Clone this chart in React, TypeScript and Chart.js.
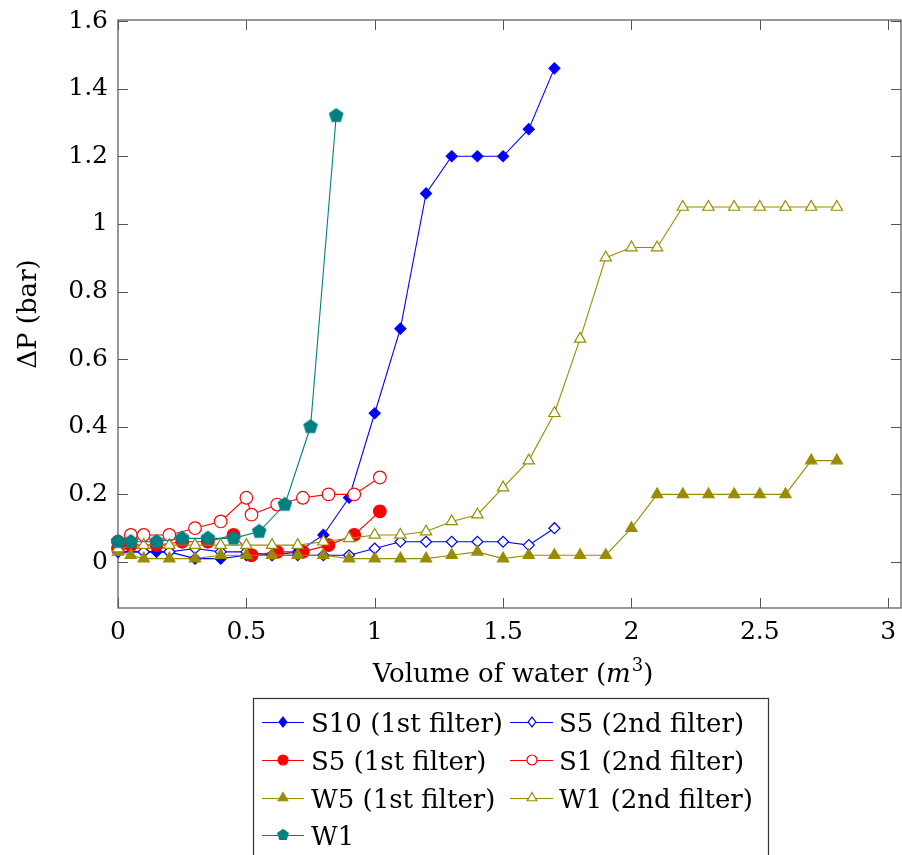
import React, { useEffect, useRef } from 'react';
import { Chart, registerables } from 'chart.js';
Chart.register(...registerables);

// ---- data ----
const s10FirstX = [0, 0.1, 0.15, 0.2, 0.3, 0.4, 0.5, 0.6, 0.7, 0.8, 0.9, 1.0, 1.1, 1.2, 1.3, 1.4, 1.5, 1.6, 1.7];
const s10FirstY = [0.03, 0.03, 0.03, 0.03, 0.01, 0.01, 0.02, 0.02, 0.03, 0.08, 0.19, 0.44, 0.69, 1.09, 1.2, 1.2, 1.2, 1.28, 1.46];

const s5SecondX = [0, 0.1, 0.2, 0.3, 0.4, 0.5, 0.6, 0.7, 0.8, 0.9, 1.0, 1.1, 1.2, 1.3, 1.4, 1.5, 1.6, 1.7];
const s5SecondY = [0.03, 0.03, 0.03, 0.04, 0.03, 0.03, 0.02, 0.02, 0.02, 0.02, 0.04, 0.06, 0.06, 0.06, 0.06, 0.06, 0.05, 0.1];

const s5FirstX = [0, 0.05, 0.15, 0.25, 0.35, 0.45, 0.52, 0.62, 0.72, 0.82, 0.92, 1.02];
const s5FirstY = [0.04, 0.05, 0.05, 0.06, 0.06, 0.08, 0.02, 0.03, 0.03, 0.05, 0.08, 0.15];

const s1SecondX = [0, 0.05, 0.1, 0.2, 0.3, 0.4, 0.5, 0.52, 0.62, 0.72, 0.82, 0.92, 1.02];
const s1SecondY = [0.06, 0.08, 0.08, 0.08, 0.1, 0.12, 0.19, 0.14, 0.17, 0.19, 0.2, 0.2, 0.25];

const w5FirstX = [0, 0.05, 0.1, 0.2, 0.3, 0.4, 0.5, 0.6, 0.7, 0.8, 0.9, 1.0, 1.1, 1.2, 1.3, 1.4, 1.5, 1.6, 1.7, 1.8, 1.9, 2.0, 2.1, 2.2, 2.3, 2.4, 2.5, 2.6, 2.7, 2.8];
const w5FirstY = [0.03, 0.02, 0.01, 0.01, 0.01, 0.02, 0.02, 0.02, 0.02, 0.02, 0.01, 0.01, 0.01, 0.01, 0.02, 0.03, 0.01, 0.02, 0.02, 0.02, 0.02, 0.1, 0.2, 0.2, 0.2, 0.2, 0.2, 0.2, 0.3, 0.3];

const w1SecondX = [0, 0.1, 0.2, 0.3, 0.4, 0.5, 0.6, 0.7, 0.8, 0.9, 1.0, 1.1, 1.2, 1.3, 1.4, 1.5, 1.6, 1.7, 1.8, 1.9, 2.0, 2.1, 2.2, 2.3, 2.4, 2.5, 2.6, 2.7, 2.8];
const w1SecondY = [0.04, 0.05, 0.05, 0.05, 0.05, 0.05, 0.05, 0.05, 0.06, 0.07, 0.08, 0.08, 0.09, 0.12, 0.14, 0.22, 0.3, 0.44, 0.66, 0.9, 0.93, 0.93, 1.05, 1.05, 1.05, 1.05, 1.05, 1.05, 1.05];

const w1X = [0, 0.05, 0.15, 0.25, 0.35, 0.45, 0.55, 0.65, 0.75, 0.85];
const w1Y = [0.06, 0.06, 0.06, 0.07, 0.07, 0.07, 0.09, 0.17, 0.4, 1.32];

const xTicks = [0, 0.5, 1, 1.5, 2, 2.5, 3];
const yTicks = [0, 0.2, 0.4, 0.6, 0.8, 1, 1.2, 1.4, 1.6];

const seriesLabels = [
  'S10 (1st filter)', 'S5 (2nd filter)',
  'S5 (1st filter)', 'S1 (2nd filter)',
  'W5 (1st filter)', 'W1 (2nd filter)',
  'W1',
];

const BLUE = '#0000ff';
const RED = '#ff0000';
const OLIVE = '#9a8c00';
const TEAL = '#008080';
const FONT = "'DejaVu Serif', serif";
const TICK_SIZE = 25;
const TEXT_SIZE = 26;

type Marker = 'diamond' | 'circle' | 'triangle' | 'pentagon';

function markerPath(ctx: CanvasRenderingContext2D, m: Marker, x: number, y: number, r: number) {
  ctx.beginPath();
  if (m === 'circle') {
    ctx.arc(x, y, r, 0, Math.PI * 2);
  } else if (m === 'diamond') {
    ctx.moveTo(x, y - r * 1.1);
    ctx.lineTo(x + r * 0.85, y);
    ctx.lineTo(x, y + r * 1.1);
    ctx.lineTo(x - r * 0.85, y);
    ctx.closePath();
  } else if (m === 'triangle') {
    for (let i = 0; i < 3; i++) {
      const a = -Math.PI / 2 + (i * 2 * Math.PI) / 3;
      const px = x + Math.cos(a) * r;
      const py = y + Math.sin(a) * r;
      if (i === 0) ctx.moveTo(px, py); else ctx.lineTo(px, py);
    }
    ctx.closePath();
  } else {
    for (let i = 0; i < 5; i++) {
      const a = -Math.PI / 2 + (i * 2 * Math.PI) / 5;
      const px = x + Math.cos(a) * r;
      const py = y + Math.sin(a) * r;
      if (i === 0) ctx.moveTo(px, py); else ctx.lineTo(px, py);
    }
    ctx.closePath();
  }
}

function drawMarker(ctx: CanvasRenderingContext2D, m: Marker, x: number, y: number, r: number, color: string, filled: boolean) {
  markerPath(ctx, m, x, y, r);
  ctx.fillStyle = filled ? color : '#ffffff';
  ctx.fill();
  ctx.strokeStyle = color;
  ctx.lineWidth = 1.2;
  ctx.stroke();
}

function makeMarkerCanvas(m: Marker, r: number, color: string, filled: boolean) {
  const size = Math.ceil(r * 2 + 4);
  const c = document.createElement('canvas');
  c.width = size;
  c.height = size;
  const ctx = c.getContext('2d')!;
  drawMarker(ctx, m, size / 2, size / 2, r, color, filled);
  return c;
}

const legendSpec: { marker: Marker; color: string; filled: boolean; r: number }[] = [
  { marker: 'diamond', color: BLUE, filled: true, r: 4.5 },
  { marker: 'diamond', color: BLUE, filled: false, r: 4.5 },
  { marker: 'circle', color: RED, filled: true, r: 5 },
  { marker: 'circle', color: RED, filled: false, r: 5 },
  { marker: 'triangle', color: OLIVE, filled: true, r: 5.5 },
  { marker: 'triangle', color: OLIVE, filled: false, r: 5.5 },
  { marker: 'pentagon', color: TEAL, filled: true, r: 5.5 },
];

const framePlugin = {
  id: 'frameTicks',
  beforeDatasetsDraw(chart: any) {
    const { ctx, chartArea, scales } = chart;
    const { left, right, top, bottom } = chartArea;
    ctx.save();
    ctx.strokeStyle = '#555555';
    ctx.lineWidth = 1.2;
    ctx.strokeRect(left, top, right - left, bottom - top);
    ctx.beginPath();
    for (const v of xTicks) {
      const px = Math.round(scales.x.getPixelForValue(v)) + 0.5;
      ctx.moveTo(px, bottom); ctx.lineTo(px, bottom - 10);
      ctx.moveTo(px, top); ctx.lineTo(px, top + 10);
    }
    for (const v of yTicks) {
      const py = Math.round(scales.y.getPixelForValue(v)) + 0.5;
      ctx.moveTo(left, py); ctx.lineTo(left + 10, py);
      ctx.moveTo(right, py); ctx.lineTo(right - 10, py);
    }
    ctx.lineWidth = 1;
    ctx.stroke();
    ctx.restore();
  },
  afterDraw(chart: any) {
    const { ctx } = chart;
    ctx.save();
    // x axis title with italic m and superscript 3
    const cx = 513;
    const base = 682;
    const partA = 'Volume of water (';
    const partM = 'm';
    const part3 = '3';
    const partC = ')';
    const fN = `${TEXT_SIZE}px ${FONT}`;
    const fI = `italic ${TEXT_SIZE}px ${FONT}`;
    const fS = `18px ${FONT}`;
    ctx.font = fN; const wA = ctx.measureText(partA).width; const wC = ctx.measureText(partC).width;
    ctx.font = fI; const wM = ctx.measureText(partM).width;
    ctx.font = fS; const w3 = ctx.measureText(part3).width;
    const total = wA + wM + 1 + w3 + wC;
    let x = cx - total / 2;
    ctx.fillStyle = '#000';
    ctx.textBaseline = 'alphabetic';
    ctx.textAlign = 'left';
    ctx.font = fN; ctx.fillText(partA, x, base); x += wA;
    ctx.font = fI; ctx.fillText(partM, x, base); x += wM + 1;
    ctx.font = fS; ctx.fillText(part3, x, base - 11); x += w3;
    ctx.font = fN; ctx.fillText(partC, x, base);

    // legend
    const boxL = 253, boxT = 698, boxR = 768, boxB = 860;
    ctx.strokeStyle = '#333333';
    ctx.lineWidth = 1.2;
    ctx.strokeRect(boxL + 0.5, boxT + 0.5, boxR - boxL, boxB - boxT);
    const rowY = [722, 760, 798, 835];
    const cols = [
      { l0: 262, l1: 304, m: 283, t: 311 },
      { l0: 510, l1: 553, m: 532, t: 559 },
    ];
    seriesLabels.forEach((label, i) => {
      const col = cols[i % 2];
      const y = rowY[Math.floor(i / 2)];
      const spec = legendSpec[i];
      ctx.beginPath();
      ctx.moveTo(col.l0, y + 0.5);
      ctx.lineTo(col.l1, y + 0.5);
      ctx.strokeStyle = spec.color;
      ctx.lineWidth = 1.1;
      ctx.stroke();
      drawMarker(ctx, spec.marker, col.m, y, spec.r, spec.color, spec.filled);
      ctx.fillStyle = '#000';
      ctx.font = fN;
      ctx.fillText(label, col.t, y + 10);
    });
    ctx.restore();
  },
};

function pts(xs: number[], ys: number[]) {
  return xs.map((x, i) => ({ x, y: ys[i] }));
}

export default function App() {
  const ref = useRef<HTMLCanvasElement | null>(null);
  useEffect(() => {
    if (!ref.current) return;
    const pent = makeMarkerCanvas('pentagon', 7, TEAL, true);
    const base = { showLine: true, borderWidth: 1.1, clip: false as any, pointBorderWidth: 1.2 };
    const datasets: any[] = [
      { ...base, label: seriesLabels[0], data: pts(s10FirstX, s10FirstY), borderColor: BLUE, pointStyle: 'rectRot', pointRadius: 5.5, pointBackgroundColor: BLUE, pointBorderColor: BLUE },
      { ...base, label: seriesLabels[1], data: pts(s5SecondX, s5SecondY), borderColor: BLUE, pointStyle: 'rectRot', pointRadius: 5.5, pointBackgroundColor: '#fff', pointBorderColor: BLUE },
      { ...base, label: seriesLabels[2], data: pts(s5FirstX, s5FirstY), borderColor: RED, pointStyle: 'circle', pointRadius: 6.3, pointBackgroundColor: RED, pointBorderColor: RED },
      { ...base, label: seriesLabels[3], data: pts(s1SecondX, s1SecondY), borderColor: RED, pointStyle: 'circle', pointRadius: 6.3, pointBackgroundColor: '#fff', pointBorderColor: RED },
      { ...base, label: seriesLabels[4], data: pts(w5FirstX, w5FirstY), borderColor: OLIVE, pointStyle: 'triangle', pointRadius: 6.5, pointBackgroundColor: OLIVE, pointBorderColor: OLIVE },
      { ...base, label: seriesLabels[5], data: pts(w1SecondX, w1SecondY), borderColor: OLIVE, pointStyle: 'triangle', pointRadius: 6.5, pointBackgroundColor: '#fff', pointBorderColor: OLIVE },
      { ...base, label: seriesLabels[6], data: pts(w1X, w1Y), borderColor: TEAL, pointStyle: pent, pointRadius: 7, pointBackgroundColor: TEAL, pointBorderColor: TEAL },
    ];
    datasets.forEach((d, i) => { d.order = datasets.length - i; d.fill = false; d.tension = 0; });
    const chart = new Chart(ref.current, {
      type: 'scatter',
      data: { datasets },
      options: {
        animation: false,
        responsive: false,
        devicePixelRatio: 1,
        layout: { autoPadding: false, padding: { left: 0, right: 1, top: 20, bottom: 0 } },
        plugins: { legend: { display: false }, tooltip: { enabled: false } },
        scales: {
          x: {
            type: 'linear',
            min: 0,
            max: 3.05,
            grid: { display: false, drawTicks: false },
            border: { display: false },
            afterBuildTicks: (s: any) => { s.ticks = xTicks.map((v) => ({ value: v })); },
            afterFit: (s: any) => { s.height = 247; s.paddingLeft = 0; s.paddingRight = 0; },
            ticks: {
              padding: 9,
              color: '#000',
              font: { family: FONT, size: TICK_SIZE },
              maxRotation: 0,
              autoSkip: false,
              callback: (v: any) => String(v),
            },
          },
          y: {
            type: 'linear',
            min: -0.136,
            max: 1.603,
            grid: { display: false, drawTicks: false },
            border: { display: false },
            afterBuildTicks: (s: any) => { s.ticks = yTicks.map((v) => ({ value: v })); },
            afterFit: (s: any) => { s.width = 118; s.paddingTop = 0; s.paddingBottom = 0; },
            title: {
              display: true,
              text: 'ΔP (bar)',
              color: '#000',
              font: { family: FONT, size: TEXT_SIZE },
              padding: { top: 14, bottom: 0 },
            },
            ticks: {
              padding: 10,
              color: '#000',
              font: { family: FONT, size: TICK_SIZE },
              autoSkip: false,
              callback: (v: any) => String(v),
            },
          },
        },
      },
      plugins: [framePlugin],
    });
    return () => chart.destroy();
  }, []);
  return (
    <div style={{ position: 'absolute', left: 0, top: 0, width: 902, height: 855, background: '#fff' }}>
      <canvas ref={ref} width={902} height={855} style={{ width: 902, height: 855, display: 'block' }} />
    </div>
  );
}
